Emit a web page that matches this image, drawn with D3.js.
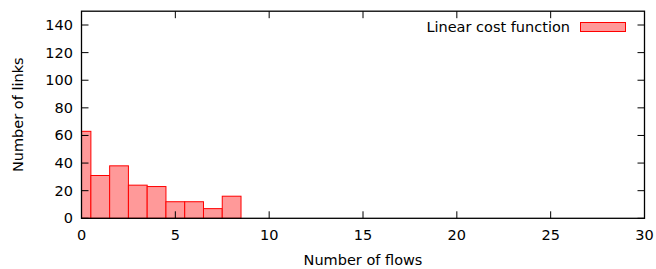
<!DOCTYPE html>
<html><head><meta charset="utf-8">
<script src="https://cdn.jsdelivr.net/npm/d3@7"></script>
<style>body{margin:0;background:#fff}svg{display:block}text{font-family:"DejaVu Sans",sans-serif;font-size:14.5px;fill:#000}</style>
</head><body>
<script>
const binCenters = [0,1,2,3,4,5,6,7,8];
const counts = [63,31,38,24,23,12,12,7,16];
const xTicks = [0,5,10,15,20,25,30];
const yTicks = [0,20,40,60,80,100,120,140];
const seriesName = "Linear cost function";

const W=656,H=269;
const x=d3.scaleLinear().domain([0,30]).range([81.5,644.5]);
const y=d3.scaleLinear().domain([0,150]).range([218.3,11.2]);
const svg=d3.select("body").append("svg").attr("width",W).attr("height",H);

// bars
const bw=1;
svg.append("g").selectAll("rect").data(binCenters).join("rect")
  .attr("x",(d)=>x(Math.max(0,d-bw/2)))
  .attr("width",(d)=>x(d+bw/2)-x(Math.max(0,d-bw/2)))
  .attr("y",(d,i)=>y(counts[i]))
  .attr("height",(d,i)=>y(0)-y(counts[i]))
  .attr("fill","#ff9999").attr("stroke","#ff0000").attr("stroke-width",1);

const tl=7;
const g=svg.append("g").attr("stroke","#000").attr("stroke-width",1);
xTicks.forEach(t=>{
  const px=x(t);
  g.append("line").attr("x1",px).attr("x2",px).attr("y1",y(0)).attr("y2",y(0)-tl);
  g.append("line").attr("x1",px).attr("x2",px).attr("y1",y(150)).attr("y2",y(150)+tl);
});
yTicks.forEach(t=>{
  const py=y(t);
  g.append("line").attr("x1",x(0)).attr("x2",x(0)+tl).attr("y1",py).attr("y2",py);
  g.append("line").attr("x1",x(30)).attr("x2",x(30)-tl).attr("y1",py).attr("y2",py);
});
svg.append("rect").attr("x",x(0)).attr("y",y(150)).attr("width",x(30)-x(0)).attr("height",y(0)-y(150))
  .attr("fill","none").attr("stroke","#000").attr("stroke-width",1.3);

svg.append("g").selectAll("text").data(xTicks).join("text")
  .attr("x",d=>x(d)).attr("y",240).attr("text-anchor","middle").text(d=>d);
svg.append("g").selectAll("text").data(yTicks).join("text")
  .attr("x",x(0)-8.5).attr("y",d=>y(d)+5).attr("text-anchor","end").text(d=>d);

svg.append("text").attr("x",(x(0)+x(30))/2).attr("y",265).attr("text-anchor","middle").text("Number of flows");
svg.append("text").attr("transform",`translate(22.5,${(y(0)+y(150))/2}) rotate(-90)`).attr("text-anchor","middle").text("Number of links");

// legend
svg.append("text").attr("x",570).attr("y",32).attr("text-anchor","end").text(seriesName);
svg.append("rect").attr("x",580.5).attr("y",22.5).attr("width",45).attr("height",9)
  .attr("fill","#ff9999").attr("stroke","#ff0000");
</script>
</body></html>
